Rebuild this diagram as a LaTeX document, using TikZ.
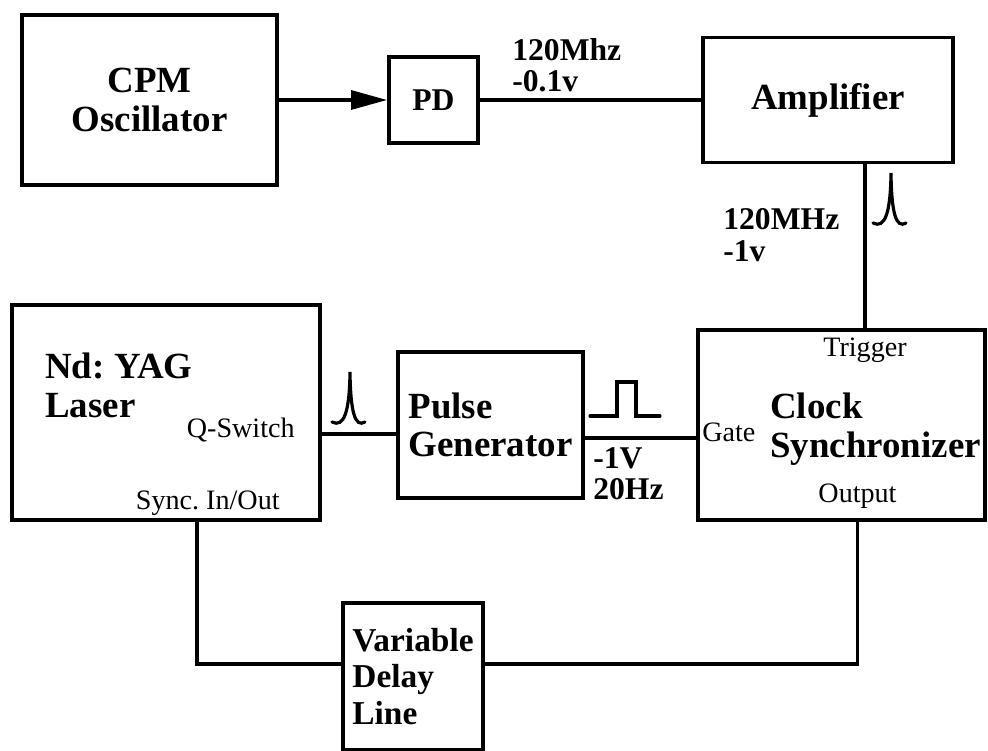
\documentclass[tikz,border=0pt]{standalone}
\usepackage{fontspec}
\setmainfont{Liberation Serif}
\usetikzlibrary{arrows.meta, positioning, calc}

\begin{document}
\frenchspacing
\begin{tikzpicture}[
    title/.style={font=\fontsize{21}{22}\selectfont\bfseries, align=left, inner sep=0pt},
    block/.style={title, draw, line width=2.2pt},
    wire/.style={line width=1.8pt},
    sig/.style={font=\fontsize{18}{18}\selectfont\bfseries, align=left, inner sep=0pt},
    port/.style={font=\fontsize{16}{17}\selectfont, inner sep=0pt},
    spikesym/.pic={
        \draw[line width=1.8pt, line cap=round]
            (-0.36,0.1) .. controls (-0.12,-0.02) and (-0.01,0.3) .. (0,1.1)
            .. controls (0.01,0.3) and (0.1,-0.02) .. (0.3,0.1);
    },
    gatesym/.pic={
        \draw[line width=1.8pt, line cap=round]
            (0,0) -- (0.54,0) -- (0.54,0.68) -- (0.92,0.68) -- (0.92,0) -- (1.4,0);
    },
]

\useasboundingbox (0,0) rectangle (19.76,-15.02);

% TOP ROW: oscillator, photodiode, amplifier
\node[block, align=center, minimum width=5.1cm, minimum height=3.4cm] (cpm) at (2.99,-2.0) {CPM\\Oscillator};
\node[block, font=\fontsize{18}{19}\selectfont\bfseries, minimum width=1.78cm, minimum height=1.72cm] (pd) at (8.67,-2.0) {PD};
\node[block, minimum width=5.0cm, minimum height=2.5cm] (amp) at (16.56,-2.0) {Amplifier};

\draw[wire, -{Triangle[length=0.72cm, width=0.38cm]}] (cpm.east) -- (pd.west);
\draw[wire] (pd.east) -- (amp.west);
\node[sig, anchor=north west] at (10.24,-0.76) {120Mhz\\-0.1v};

% MIDDLE ROW: laser, pulse generator, clock synchronizer
\node[block, minimum width=6.16cm, minimum height=4.3cm] (laser) at (3.32,-8.25) {};
\node[title, anchor=north west] at (0.9,-7.06) {Nd: YAG\\Laser};
\node[port, anchor=base east] (qsw) at (5.9,-8.76) {Q-Switch};
\node[port, anchor=base east] (sync) at (5.6,-10.2) {Sync. In/Out};

\node[block, minimum width=3.7cm, minimum height=2.92cm] (gen) at (9.81,-8.5) {Pulse\\Generator};

\node[block, minimum width=5.74cm, minimum height=3.8cm] (clock) at (16.83,-8.5) {};
\node[title, anchor=north west] at (15.4,-7.86) {Clock\\Synchronizer};
\node[port, anchor=base] (trig) at (17.3,-7.14) {Trigger};
\node[port, anchor=base west] (gate) at (14.04,-8.84) {Gate};
\node[port, anchor=base] (out) at (17.15,-10.06) {Output};

\draw[wire] (amp.south -| trig) -- (clock.north -| trig);
\pic at (17.82,-4.56) {spikesym};
\node[sig, anchor=north west] at (14.46,-4.16) {120MHz\\-1v};

\draw[wire] (laser.east |- qsw.mid) -- (gen.west |- qsw.mid);
\pic at (7.0,-8.54) {spikesym};

\draw[wire] (gen.east |- gate.mid) -- (clock.west |- gate.mid);
\pic at (11.8,-8.32) {gatesym};
\node[sig, anchor=north west] at (11.86,-8.94) {-1V\\20Hz};

% BOTTOM: delay line loop
\node[block, font=\fontsize{19}{21}\selectfont\bfseries, minimum width=2.8cm, minimum height=2.94cm] (delay) at (8.26,-13.53) {Variable\\Delay\\Line};

\draw[wire] ([xshift=0.62cm]laser.south) |- ([yshift=0.25cm]delay.west);
\draw[wire] (clock.south -| out) |- ([yshift=0.25cm]delay.east);

\end{tikzpicture}
\end{document}
